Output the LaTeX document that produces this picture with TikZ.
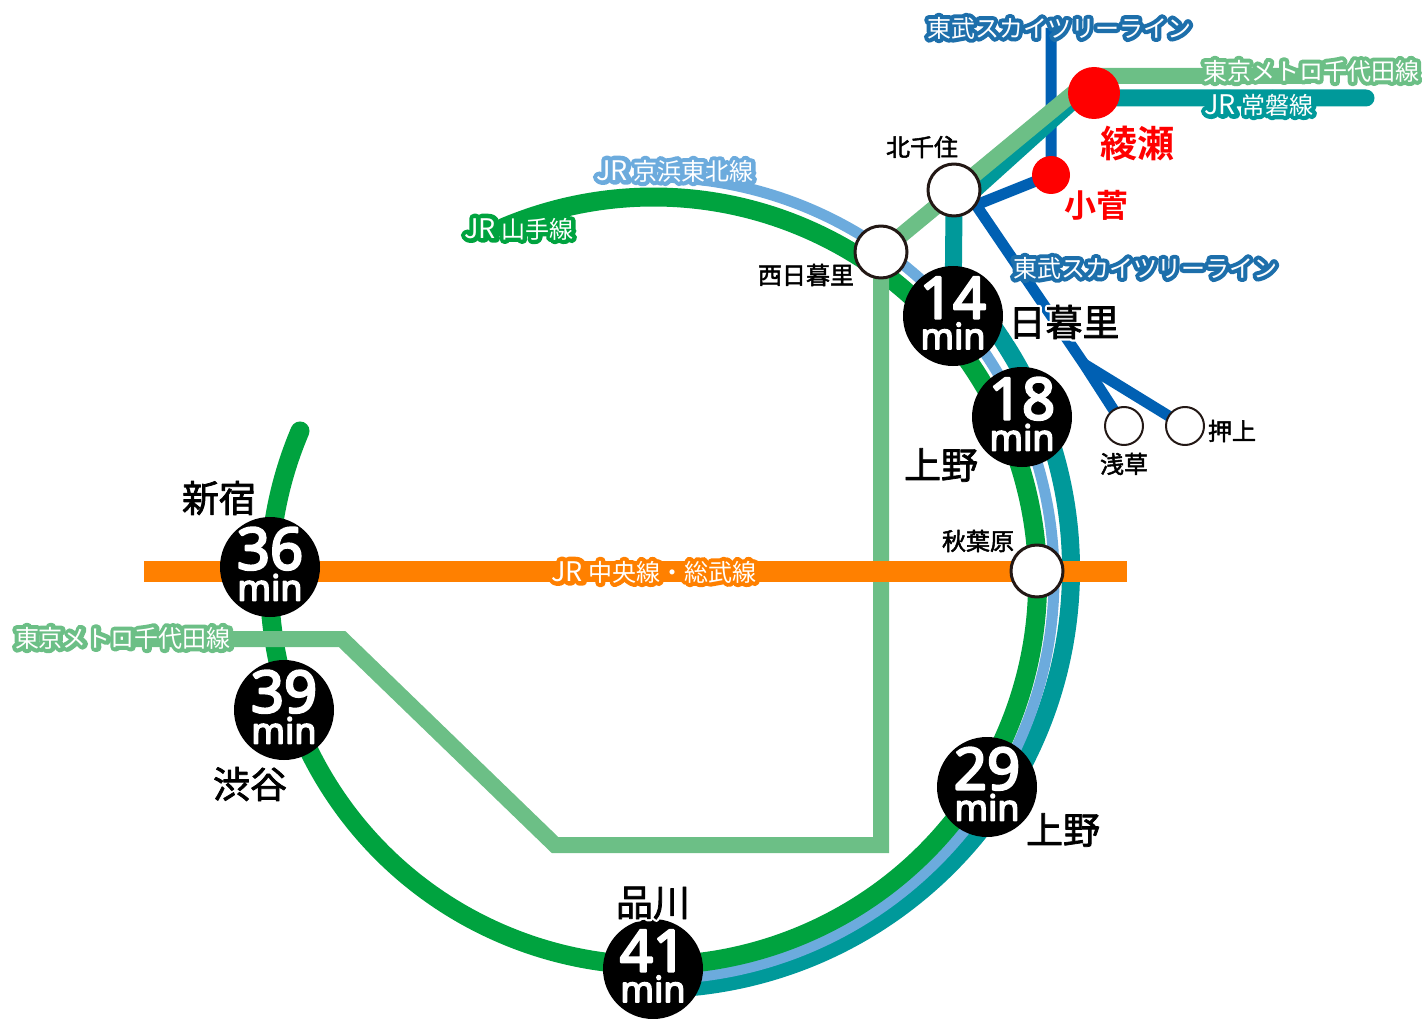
\documentclass[tikz,border=0pt]{standalone}
\usepackage{fontspec}
\usetikzlibrary{backgrounds}
\newfontfamily\timefont[FakeBold=4]{Noto Sans}
\newfontfamily\cjk{Noto Sans CJK JP}
\newfontfamily\cjkmed[FakeBold=2]{Noto Sans CJK JP}
\newfontfamily\cjkbold{Noto Sans CJK JP Bold}
\newfontfamily\cjkhalo[FakeBold=34]{Noto Sans CJK JP}
\newfontfamily\cjkthin[FakeBold=14]{Noto Sans CJK JP}
\definecolor{yama}{HTML}{00A33F}
\definecolor{keihin}{HTML}{6CABDD}
\definecolor{joban}{HTML}{00999A}
\definecolor{chiyoda}{HTML}{6CBF86}
\definecolor{chuo}{HTML}{FF8000}
\definecolor{tobu}{HTML}{0060B3}
\definecolor{tobutext}{HTML}{1D6FAB}
\definecolor{ring}{HTML}{231815}
% white text on a thick coloured outline
\newcommand{\linename}[2]{\leavevmode\rlap{\color{#1}\cjkhalo #2}{\color{white}\cjk #2}}
\newcommand{\haloname}[1]{\leavevmode\rlap{\color{white}\cjkthin #1}{\color{black}\cjkmed #1}}
\newcommand{\jr}{{\fontsize{27}{27}\selectfont JR} }
\newcommand{\mins}[1]{\timefont\fontsize{58}{58}\selectfont #1\\[3pt]\timefont\fontsize{36}{36}\selectfont min}
\tikzset{
  every node/.style={inner sep=0pt,font=\fontsize{24}{24}\selectfont},
  time/.style={circle,fill=black,text=white,minimum size=100pt,align=center},
  timetext/.style={text=white,align=center},
  bigstation/.style={circle,draw=ring,line width=3pt,fill=white,minimum size=52pt},
  smallstation/.style={circle,draw=ring,line width=2pt,fill=white,minimum size=38pt},
  redstation/.style={circle,fill=red},
  bigname/.style={font=\fontsize{37}{37}\selectfont},
  redname/.style={text=red,font=\fontsize{#1}{#1}\selectfont\cjkbold},
  yamaline/.style={draw=yama,line width=19pt},
  keihinline/.style={draw=keihin,line width=11pt},
  jobanline/.style={draw=joban,line width=18pt},
  chiyodaline/.style={draw=chiyoda,line width=16pt},
  chuoline/.style={draw=chuo,line width=21pt},
  tobuline/.style={draw=tobu,line width=11pt},
}

\begin{document}
\begin{tikzpicture}[x=1pt,y=-1pt,line join=round]
  \useasboundingbox (0,0) rectangle (1422,1019);

  \coordinate (ringc) at (653.5,581);
  \coordinate (keihinc) at (653,578);
  \coordinate (jobanc) at (652,570);

  \node[time] (m14) at (953,316) {};
  \node[time] (m18) at (1022,417) {};
  \node[time] (m29) at (987,787) {};
  \node[time] (m41) at (653,969) {};
  \node[time] (m36) at (270,567) {};
  \node[time] (m39) at (284,710) {};
  \node[timetext] (t14) at (953,313) {\mins{14}};
  \node[timetext] (t18) at (1022,414) {\mins{18}};
  \node[timetext] (t29) at (987,784) {\mins{29}};
  \node[timetext] (t41) at (653,966) {\mins{41}};
  \node[timetext] (t36) at (270,564) {\mins{36}};
  \node[timetext] (t39) at (284,707) {\mins{39}};

  \node[bigstation] (nishi) at (881,252) {};
  \node[bigstation] (kita) at (954,190) {};
  \node[bigstation] (akiba) at (1037,571) {};
  \node[smallstation] (asa) at (1124,426) {};
  \node[smallstation] (oshi) at (1185,426) {};
  \node[redstation,minimum size=52pt] (ayase) at (1094,93) {};
  \node[redstation,minimum size=38pt] (kosuge) at (1051,175) {};

  \node[bigname] (nnippori) at (1064,322) {\haloname{日暮里}};
  \node[bigname] (nueno) at (941,465) {\haloname{上野}};
  \node[bigname] (nueno2) at (1063,830) {\haloname{上野}};
  \node[bigname] (nshina) at (653,903) {\haloname{品川}};
  \node[bigname] (nshibu) at (250,784) {\haloname{渋谷}};
  \node[bigname] (nshinju) at (219,498) {\haloname{新宿}};
  \node (nkita) at (922,147) {\cjkmed 北千住};
  \node (nnishi) at (806,275) {\cjkmed 西日暮里};
  \node (nakiba) at (978,541) {\cjkmed 秋葉原};
  \node (nasa) at (1124,464) {\cjkmed 浅草};
  \node (noshi) at (1232,431) {\cjkmed 押上};
  \node[redname=37] (nayase) at (1137,143) {綾瀬};
  \node[redname=32] (nkosuge) at (1096,205) {小菅};

  \node (ltobu) at (1059,28) {\linename{tobutext}{東武スカイツリーライン}};
  \node (ltobu2) at (1145,268) {\linename{tobutext}{東武スカイツリーライン}};
  \node (lchiyoda) at (1311,71) {\linename{chiyoda}{東京メトロ千代田線}};
  \node (lchiyoda2) at (123,638) {\linename{chiyoda}{東京メトロ千代田線}};
  \node (ljoban) at (1259,105) {\linename{joban}{\jr 常磐線}};
  \node (lyama) at (519,229) {\linename{yama}{\jr 山手線}};
  \node (lkeihin) at (675,171) {\linename{keihin}{\jr 京浜東北線}};
  \node (lchuo) at (654,572) {\linename{chuo}{\jr 中央線・総武線}};

  \begin{scope}[on background layer]
    % tobu skytree line
    \coordinate (tfork) at (1084,364);
    \draw[tobuline] (kosuge |- ltobu) -- (kosuge.center) -- (976,205) -- (tfork) -- (asa.center);
    \draw[tobuline] (tfork) -- (oshi.center);
    % joban line and the ring
    \draw[jobanline] (jobanc) ++(-38:419) arc[start angle=-38,end angle=88,radius=419];
    \coordinate (jbend) at (954,208);
    \coordinate (jbend2) at (1076,98);
    \draw[jobanline,line width=17pt] (m14.center) -- (jbend) -- (jbend2) -- (1366,98) [line cap=round];
    \draw[keihinline] (keihinc) ++(-88:401) arc[start angle=-88,end angle=88,radius=401];
    \draw[yamaline,line cap=round] (ringc) ++(203:384) arc[start angle=203,end angle=-113,radius=384];
    % chiyoda line
    \coordinate (cleft) at (342,639);
    \coordinate (cdown) at (555,845);
    \coordinate (cright) at (881,845);
    \coordinate (cup) at (1094,76);
    \draw[chiyodaline,line join=miter] (cleft -| lchiyoda2) -- (cleft) -- (cdown) -- (cright) -- (nishi.center) -- (cup) -- (cup -| lchiyoda);
    % chuo line
    \coordinate (cstart) at (144,571);
    \coordinate (cend) at (1127,571);
    \draw[chuoline] (cstart) -- (cend);
  \end{scope}
\end{tikzpicture}
\end{document}
